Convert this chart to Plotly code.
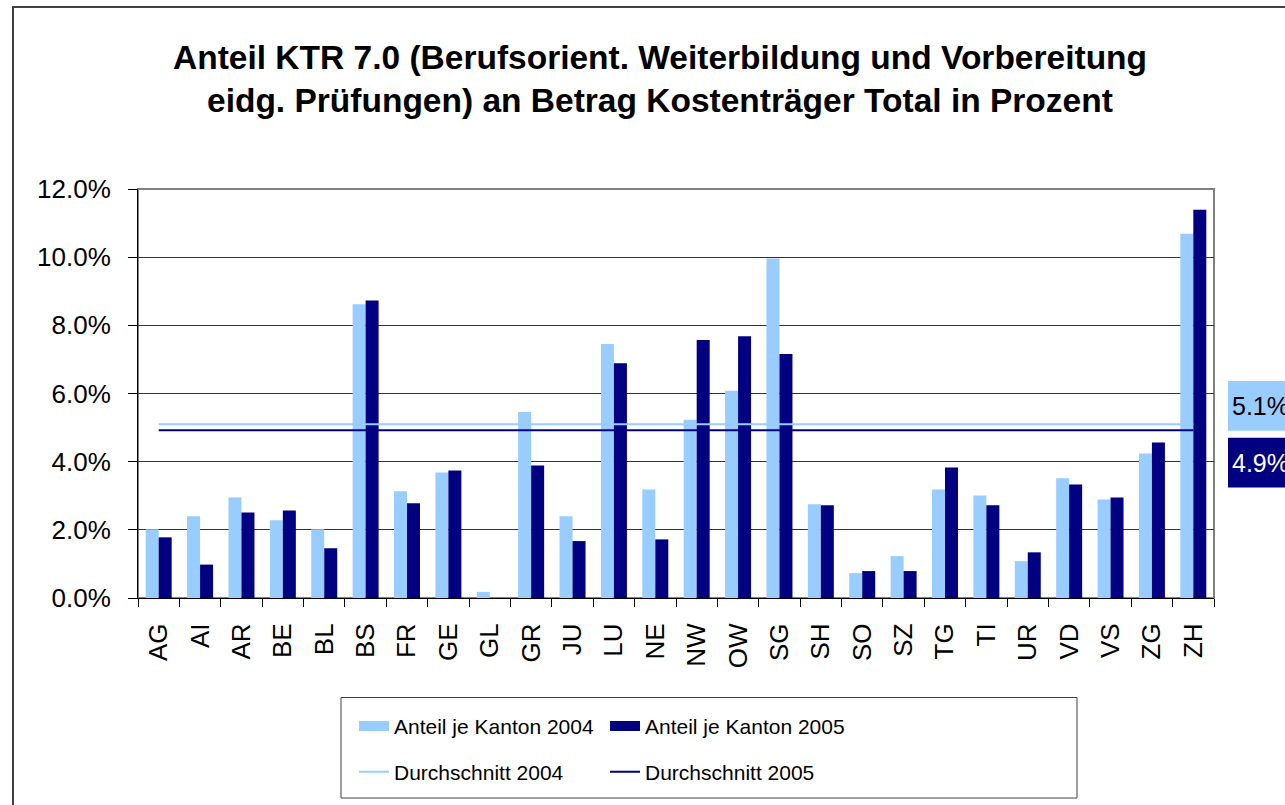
import plotly.graph_objects as go

# ---- data ----
cantons = ["AG", "AI", "AR", "BE", "BL", "BS", "FR", "GE", "GL", "GR", "JU", "LU", "NE",
           "NW", "OW", "SG", "SH", "SO", "SZ", "TG", "TI", "UR", "VD", "VS", "ZG", "ZH"]
share_2004 = [2.02, 2.40, 2.95, 2.28, 2.02, 8.62, 3.13, 3.68, 0.18, 5.46, 2.40, 7.45, 3.18,
              5.23, 6.08, 9.96, 2.75, 0.73, 1.23, 3.18, 3.01, 1.08, 3.51, 2.89, 4.24, 10.69]
share_2005 = [1.78, 0.98, 2.51, 2.57, 1.46, 8.73, 2.78, 3.74, 0.00, 3.89, 1.67, 6.89, 1.72,
              7.57, 7.68, 7.16, 2.72, 0.79, 0.79, 3.83, 2.72, 1.34, 3.33, 2.95, 4.56, 11.39]
avg_2004 = 5.10
avg_2005 = 4.92
y_ticks = [0, 2, 4, 6, 8, 10, 12]

LIGHT = "#99CCFF"
DARK = "#000080"
FONT = "Liberation Sans, Arial, sans-serif"

# pixel geometry helpers (layout only)
W, H = 1285, 805
L, R, T, B = 138, 1214, 189, 600
pw, ph = R - L, B - T


def px(xp):
    return (xp - L) / pw


def py(yp):
    return (B - yp) / ph


fig = go.Figure()
fig.add_trace(go.Bar(x=cantons, y=[v / 100 for v in share_2004], name="Anteil je Kanton 2004",
                     marker=dict(color=LIGHT, line=dict(width=0)), showlegend=False))
fig.add_trace(go.Bar(x=cantons, y=[v / 100 for v in share_2005], name="Anteil je Kanton 2005",
                     marker=dict(color=DARK, line=dict(width=0)), showlegend=False))
# legend swatches for the bar series (block-style keys)
fig.add_trace(go.Scatter(x=[None], y=[None], mode="lines", name="Anteil je Kanton 2004",
                         line=dict(color=LIGHT, width=20), legend="legend", hoverinfo="skip"))
fig.add_trace(go.Scatter(x=[None], y=[None], mode="lines", name="Anteil je Kanton 2005",
                         line=dict(color=DARK, width=20), legend="legend2", hoverinfo="skip"))
fig.add_trace(go.Scatter(x=[cantons[0], cantons[-1]], y=[avg_2004 / 100, avg_2004 / 100],
                         mode="lines", name="Durchschnitt 2004", line=dict(color=LIGHT, width=2),
                         legend="legend3"))
fig.add_trace(go.Scatter(x=[cantons[0], cantons[-1]], y=[avg_2005 / 100, avg_2005 / 100],
                         mode="lines", name="Durchschnitt 2005", line=dict(color=DARK, width=2),
                         legend="legend4"))

shapes = [
    # outer chart border
    dict(type="rect", xref="paper", yref="paper", x0=px(13), x1=px(1300), y0=py(6), y1=py(830),
         line=dict(color="#404040", width=2), fillcolor="rgba(0,0,0,0)", layer="below"),
    # plot area border (top/right gray)
    dict(type="rect", xref="paper", yref="paper", x0=0, x1=1, y0=0, y1=1,
         line=dict(color="#808080", width=2), fillcolor="rgba(0,0,0,0)", layer="below"),
    # legend box
    dict(type="rect", xref="paper", yref="paper", x0=px(341), x1=px(1077), y0=py(801), y1=py(700),
         line=dict(color="#404040", width=1), fillcolor="rgba(0,0,0,0)"),
    # average label boxes
    dict(type="rect", xref="paper", yref="paper", x0=px(1228), x1=px(1300), y0=py(432), y1=py(382),
         line=dict(width=0), fillcolor=LIGHT),
    dict(type="rect", xref="paper", yref="paper", x0=px(1228), x1=px(1300), y0=py(489), y1=py(439),
         line=dict(width=0), fillcolor=DARK),
]

annotations = [
    dict(text="<b>Anteil KTR 7.0 (Berufsorient. Weiterbildung und Vorbereitung</b>",
         xref="paper", yref="paper", x=px(660), y=py(57), xanchor="center", yanchor="middle",
         showarrow=False, font=dict(family=FONT, size=33.5, color="black")),
    dict(text="<b>eidg. Prüfungen) an Betrag Kostenträger Total in Prozent</b>",
         xref="paper", yref="paper", x=px(660), y=py(100), xanchor="center", yanchor="middle",
         showarrow=False, font=dict(family=FONT, size=33.5, color="black")),
    dict(text=f"{avg_2004:.1f}%", xref="paper", yref="paper", x=px(1230), y=py(407),
         xanchor="left", yanchor="middle", showarrow=False,
         font=dict(family=FONT, size=25, color="black")),
    dict(text=f"{avg_2005:.1f}%", xref="paper", yref="paper", x=px(1230), y=py(464),
         xanchor="left", yanchor="middle", showarrow=False,
         font=dict(family=FONT, size=25, color="white")),
]


def leg(xp, yp):
    return dict(x=px(xp), y=py(yp), xanchor="left", yanchor="middle", orientation="v",
                bgcolor="rgba(0,0,0,0)", borderwidth=0,
                font=dict(family=FONT, size=21, color="black"))


fig.update_layout(
    width=W, height=H,
    margin=dict(l=L, r=W - R, t=T, b=H - B, pad=0),
    paper_bgcolor="white", plot_bgcolor="white",
    barmode="group", bargap=0.372, bargroupgap=0,
    font=dict(family=FONT, size=24, color="black"),
    shapes=shapes, annotations=annotations,
    legend=leg(354, 729),
    legend2=leg(605, 729),
    legend3=leg(354, 775),
    legend4=leg(605, 775),
    showlegend=True,
)

fig.update_xaxes(
    type="category", tickangle=-90, tickson="boundaries", ticks="outside", ticklen=8,
    tickcolor="black", showline=True, linecolor="black", linewidth=1, showgrid=False,
    ticklabelstandoff=14,
    tickfont=dict(family=FONT, size=26, color="black"),
)
fig.update_yaxes(
    range=[0, 0.12], tickvals=[v / 100 for v in y_ticks], tickformat=".1%",
    ticks="outside", ticklen=9, tickcolor="black", showline=True, linecolor="black", linewidth=1,
    showgrid=True, gridcolor="#333333", gridwidth=1, zeroline=False,
    ticklabelstandoff=12,
    tickfont=dict(family=FONT, size=26, color="black"),
)

fig.write_html("out.html", config={"displayModeBar": False},
               post_script="document.body.style.margin='0';document.body.style.overflow='hidden';")
